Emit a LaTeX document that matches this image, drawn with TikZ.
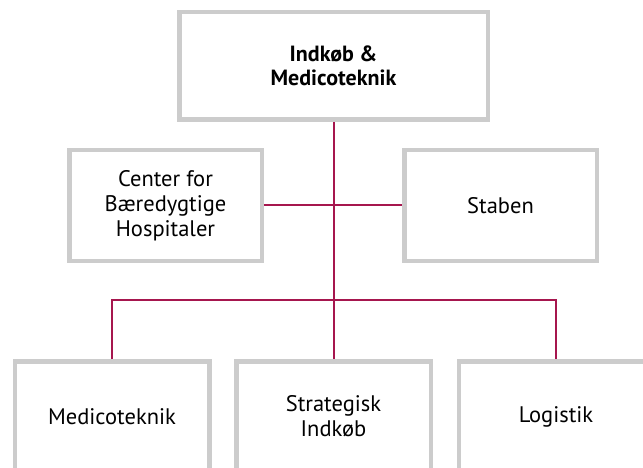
\documentclass[tikz,border=0pt]{standalone}
\usepackage{fontspec}
\setmainfont{PT Sans}
\definecolor{boxgray}{RGB}{204,204,204}
\definecolor{linered}{RGB}{166,22,78}
\tikzset{
  orgbox/.style={draw=boxgray,line width=4.5pt,fill=white,align=center,
    minimum width=192.5pt,minimum height=110.5pt,inner sep=0pt,
    font=\fontsize{22.5}{25}\selectfont},
  conn/.style={draw=linered,line width=2pt}
}
\begin{document}
\begin{tikzpicture}[x=1pt,y=-1pt]
    \useasboundingbox (0,0) rectangle (643,468);
    \node[orgbox,minimum width=308.5pt,minimum height=107.5pt,font=\fontsize{22}{24}\selectfont\bfseries](top)at(333.5,66){Indkøb \&\\Medicoteknik};
    \node[orgbox](center)at(165.5,205.5){Center for\\Bæredygtige\\Hospitaler};
    \node[orgbox](staben)at(500.5,205.5){Staben};
    \node[orgbox,minimum width=194.5pt](medico)at(112,416.5){Medicoteknik};
    \node[orgbox,minimum width=194.5pt](strat)at(333.5,416.5){Strategisk\\Indkøb};
    \node[orgbox,minimum width=194.5pt](logi)at(556,416.5){Logistik};
    \coordinate (bus) at (333.5,300);
    \draw[conn](top)--(strat);
    \draw[conn](center)--(staben);
    \draw[conn](medico)|-(bus)-|(logi);
\end{tikzpicture}
\end{document}
